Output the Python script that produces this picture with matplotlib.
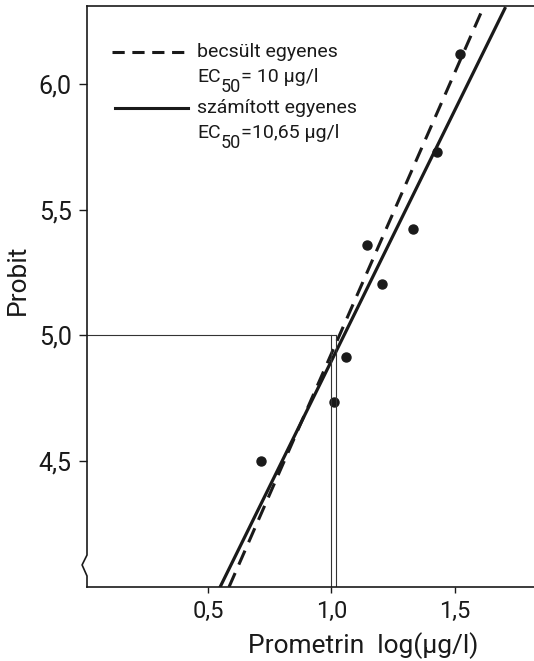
import matplotlib
matplotlib.use('Agg')
import matplotlib.pyplot as plt

# mért pontok (log koncentráció, probit)
log_conc = [0.715, 1.01, 1.058, 1.144, 1.204, 1.33, 1.427, 1.52]
probit = [4.50, 4.735, 4.915, 5.36, 5.205, 5.425, 5.73, 6.12]

# becsült egyenes (szaggatott) és számított egyenes (folytonos), végpontok
becsult_x = [0.585, 1.613]
becsult_y = [4.0, 6.30]
szamitott_x = [0.549, 1.702]
szamitott_y = [4.0, 6.30]

# EC50 segédvonalak
ec50_becsult = 1.0
ec50_szamitott = 1.02

xticks = [0.5, 1.0, 1.5]
xticklabels = ['0,5', '1,0', '1,5']
yticks = [4.5, 5.0, 5.5, 6.0]
yticklabels = ['4,5', '5,0', '5,5', '6,0']

plt.rcParams['font.family'] = ['Roboto', 'DejaVu Sans']

ink = '#1a1a1a'
fig = plt.figure(figsize=(5.34, 6.61), dpi=100)
ax = fig.add_axes([87 / 534, 74 / 661, 447 / 534, 581 / 661])

ax.plot(becsult_x, becsult_y, color=ink, lw=2.2, ls=(0, (5, 3)))
ax.plot(szamitott_x, szamitott_y, color=ink, lw=2.3)
ax.plot(log_conc, probit, 'o', color=ink, ms=6.5)

# vékony segédvonalak
ax.plot([0, ec50_szamitott], [5.0, 5.0], color='#333333', lw=0.8)
ax.plot([ec50_becsult, ec50_becsult], [4.0, 5.0], color='#333333', lw=0.8)
ax.plot([ec50_szamitott, ec50_szamitott], [4.0, 5.0], color='#333333', lw=0.8)

ax.set_xlim(0.01, 1.82)
ax.set_ylim(4.0, 6.31)
ax.set_xticks(xticks)
ax.set_xticklabels(xticklabels)
ax.set_yticks(yticks)
ax.set_yticklabels(yticklabels)
ax.tick_params(axis='x', length=4.5, width=1, labelsize=17, pad=5, colors=ink)
ax.tick_params(axis='y', length=6, width=1, labelsize=18, pad=5, colors=ink)

ax.spines['right'].set_visible(False)
ax.spines['left'].set_visible(False)
for s in ['top', 'bottom']:
    ax.spines[s].set_linewidth(1.2)
    ax.spines[s].set_color(ink)

# bal tengely tengelytöréssel
ax.plot([0, 0, -0.011, 0, 0], [1, 0.055, 0.038, 0.019, 0], color=ink,
        lw=1.2, transform=ax.transAxes, clip_on=False)


def ec50_felirat(x, y, ertek):
    t1 = ax.text(x, y, 'EC', fontsize=14, va='center', color=ink, transform=ax.transAxes)
    t2 = ax.annotate('50', xy=(1.0, -0.05), xycoords=t1, fontsize=13, va='center', color=ink)
    ax.annotate(ertek, xy=(1.0, 0.5), xycoords=(t2, t1), fontsize=14, va='center', color=ink)


# jelmagyarázat
ax.plot([0.056, 0.221], [0.921, 0.921], color=ink, lw=2.2, ls=(0, (4, 2.5)),
        transform=ax.transAxes)
ax.text(0.246, 0.921, 'becsült egyenes', fontsize=14, va='center', color=ink,
        transform=ax.transAxes)
ec50_felirat(0.246, 0.877, '= 10 µg/l')
ax.plot([0.063, 0.226], [0.824, 0.824], color=ink, lw=2.2, transform=ax.transAxes)
ax.text(0.246, 0.824, 'számított egyenes', fontsize=14, va='center', color=ink,
        transform=ax.transAxes)
ec50_felirat(0.246, 0.781, '=10,65 µg/l')

ax.text(-0.154, 0.528, 'Probit', fontsize=19, rotation=90, ha='center', va='center',
        color=ink, transform=ax.transAxes)
ax.text(0.617, -0.1, 'Prometrin  log(µg/l)', fontsize=19, ha='center', va='center',
        color=ink, transform=ax.transAxes)

plt.savefig('out.png', dpi=100)
plt.close()
